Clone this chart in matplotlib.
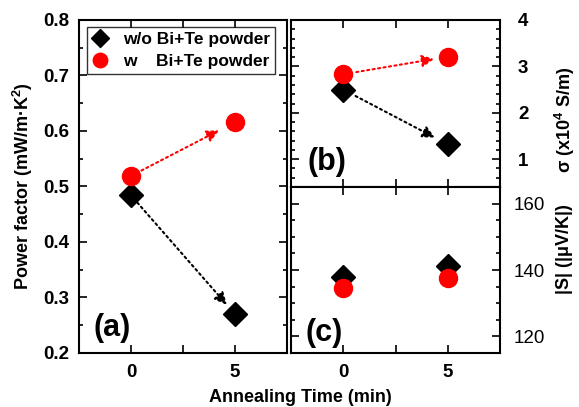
import numpy as np
import matplotlib
matplotlib.use("Agg")
from matplotlib import pyplot as plt
from matplotlib.ticker import MultipleLocator

plt.rcParams['font.family'] = ['Liberation Sans', 'DejaVu Sans']
plt.rcParams['font.weight'] = 'bold'
plt.rcParams['mathtext.default'] = 'regular'

# annealing time (min)
time = [0, 5]

# power factor (mW/m K^2)
pf_wo = [0.484, 0.270]
pf_w = [0.519, 0.616]

# conductivity (x10^4 S/m)
sig_wo = [2.50, 1.32]
sig_w = [2.83, 3.21]

# |S| (uV/K)
s_wo = [138.0, 141.2]
s_w = [134.5, 137.7]

labels = ["w/o Bi+Te powder", "w    Bi+Te powder"]

fig = plt.figure(figsize=(5.79, 4.07), dpi=100)
ax_a = fig.add_axes([0.1364, 0.1327, 0.3593, 0.8182])
ax_b = fig.add_axes([0.5026, 0.5405, 0.3610, 0.4104])
ax_c = fig.add_axes([0.5026, 0.1327, 0.3610, 0.4078])


def style(ax):
    for s in ax.spines.values():
        s.set_linewidth(1.5)
    ax.tick_params(which='both', direction='in', top=True, right=True,
                   labelsize=13.5, width=1.2)
    ax.tick_params(which='major', length=6)
    ax.tick_params(which='minor', length=3)
    ax.set_xlim(-2.5, 7.5)
    ax.set_xticks([0, 5])
    ax.xaxis.set_minor_locator(MultipleLocator(2.5))
    ax.tick_params(axis='x', which='minor', length=6)


def arrow(ax, x, y, color, sa, sb):
    ax.annotate("", xy=(x[1], y[1]), xytext=(x[0], y[0]),
                arrowprops=dict(arrowstyle='-|>', linestyle=':', lw=1.5,
                                color=color, shrinkA=sa, shrinkB=sb,
                                mutation_scale=18))


# (a)
style(ax_a)
ax_a.set_ylim(0.2, 0.8)
ax_a.yaxis.set_major_locator(MultipleLocator(0.1))
ax_a.yaxis.set_minor_locator(MultipleLocator(0.05))
ax_a.tick_params(axis='y', pad=7)
ax_a.tick_params(axis='x', pad=8)
arrow(ax_a, time, pf_w, 'red', 8.5, 13)
arrow(ax_a, time, pf_wo, 'black', 7, 9)
ax_a.plot(time, pf_wo, 'D', color='black', ms=12, ls='none', label=labels[0])
ax_a.plot(time, pf_w, 'o', color='red', ms=13, ls='none', label=labels[1])
ax_a.set_ylabel("Power factor (mW/m\u00b7K$^2$)", fontsize=13, fontweight='bold',
                labelpad=6)
ax_a.set_xlabel("Annealing Time (min)", fontsize=13, fontweight='bold', x=1.063,
                labelpad=6)
leg = ax_a.legend(loc='upper left', bbox_to_anchor=(0.02, 0.99), fontsize=12.5,
                  frameon=True, fancybox=False, edgecolor='black', markerscale=0.8,
                  handlelength=1.0, handletextpad=0.8, borderpad=0.3,
                  labelspacing=0.4, borderaxespad=0.2)
leg.get_frame().set_linewidth(1.0)
ax_a.text(0.07, 0.05, "(a)", transform=ax_a.transAxes, fontsize=22, fontweight='bold')

# (b)
style(ax_b)
ax_b.set_ylim(0.4, 4)
ax_b.yaxis.set_major_locator(MultipleLocator(1))
ax_b.yaxis.set_minor_locator(MultipleLocator(0.2))
ax_b.tick_params(labelleft=False, labelright=True, labelbottom=False, pad=13)
arrow(ax_b, time, sig_w, 'red', 9.5, 10)
arrow(ax_b, time, sig_wo, 'black', 10, 10.5)
ax_b.plot(time, sig_wo, 'D', color='black', ms=12, ls='none')
ax_b.plot(time, sig_w, 'o', color='red', ms=13, ls='none')
ax_b.text(0.08, 0.10, "(b)", transform=ax_b.transAxes, fontsize=22, fontweight='bold')

# (c)
style(ax_c)
ax_c.set_ylim(115, 165)
ax_c.yaxis.set_major_locator(MultipleLocator(20))
ax_c.yaxis.set_minor_locator(MultipleLocator(5))
ax_c.tick_params(labelleft=False, labelright=True)
ax_c.tick_params(axis='y', pad=10)
ax_c.tick_params(axis='x', pad=8)
for t in ax_c.get_yticklabels():
    t.set_fontweight('normal')
ax_c.plot(time, s_wo, 'D', color='black', ms=12, ls='none')
ax_c.plot(time, s_w, 'o', color='red', ms=13, ls='none')
ax_c.text(0.07, 0.07, "(c)", transform=ax_c.transAxes, fontsize=22, fontweight='bold')

fig.text(0.975, 0.705, "$\\sigma$ (x10$^4$ S/m)", rotation=90, fontsize=13,
         fontweight='bold', ha='center', va='center')
fig.text(0.975, 0.386, "|S| (|$\\mu$V/K|)", rotation=90, fontsize=13,
         fontweight='bold', ha='center', va='center')

fig.savefig("out.png", dpi=100)
